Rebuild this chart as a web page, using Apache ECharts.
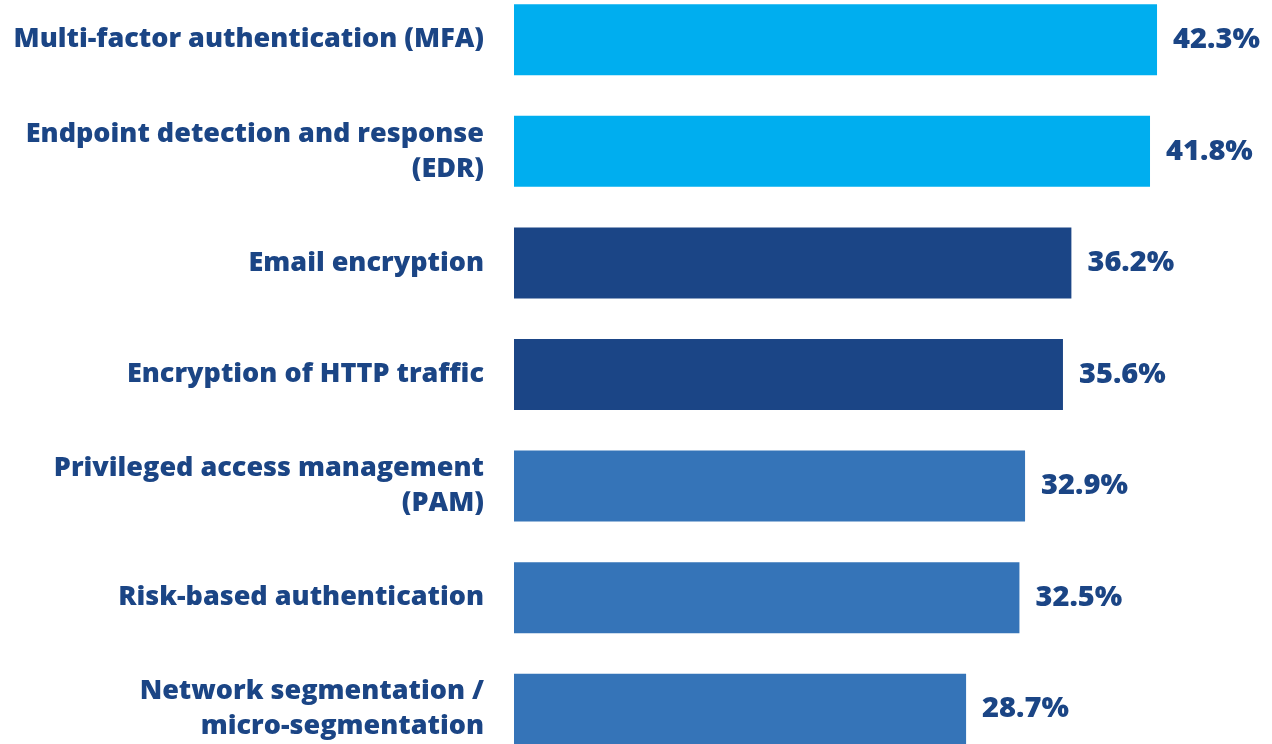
<!DOCTYPE html>
<html>
<head>
<meta charset="utf-8">
<script src="https://cdn.jsdelivr.net/npm/echarts@6/dist/echarts.min.js"></script>
<style>
  html, body { margin: 0; padding: 0; background: #fff; overflow: hidden; }
  #chart { position: relative; top: -16px; width: 1272px; height: 781px; }
</style>
</head>
<body>
<div id="chart"></div>
<script>
// data
var categories = [
    'Multi-factor authentication (MFA)',
    'Endpoint detection and response\n(EDR)',
    'Email encryption',
    'Encryption of HTTP traffic',
    'Privileged access management\n(PAM)',
    'Risk-based authentication',
    'Network segmentation /\nmicro-segmentation'
];
var values = [42.3, 41.8, 36.2, 35.6, 32.9, 32.5, 28.7];
var barColors = ['#00AEEF', '#00AEEF', '#1B4586', '#1B4586', '#3574B8', '#3574B8', '#3574B8'];

var textColor = '#1B4585';
var fontFamily = '"Open Sans", sans-serif';

var myChart = echarts.init(document.getElementById('chart'));

// bars start a bit left of zero in the original, hence the negative start
var axisMin = -3.5;
var axisMax = 50;
var pxPerUnit = 14.04;
var gridLeft = 514;
var gridWidth = (axisMax - axisMin) * pxPerUnit;

var option = {
    backgroundColor: '#fff',
    animation: false,
    grid: {
        left: gridLeft,
        width: gridWidth,
        top: 0,
        height: 781
    },
    xAxis: {
        type: 'value',
        min: axisMin,
        max: axisMax,
        startValue: axisMin,
        show: false,
        splitLine: {show: false}
    },
    yAxis: {
        type: 'category',
        inverse: true,
        data: categories,
        axisLine: {show: false},
        axisTick: {show: false},
        axisLabel: {
            margin: 30,
            color: textColor,
            fontFamily: fontFamily,
            fontWeight: 800,
            fontSize: 27,
            lineHeight: 35,
            align: 'right'
        }
    },
    series: [{
        type: 'bar',
        barWidth: 71,
        data: values.map(function (v, i) {
            return {value: v, itemStyle: {color: barColors[i]}};
        }),
        label: {
            show: true,
            position: 'right',
            distance: 16,
            color: textColor,
            fontFamily: fontFamily,
            fontWeight: 800,
            fontSize: 29,
            formatter: function (p) { return p.value.toFixed(1) + '%'; }
        }
    }]
};
myChart.setOption(option);
</script>
</body>
</html>
